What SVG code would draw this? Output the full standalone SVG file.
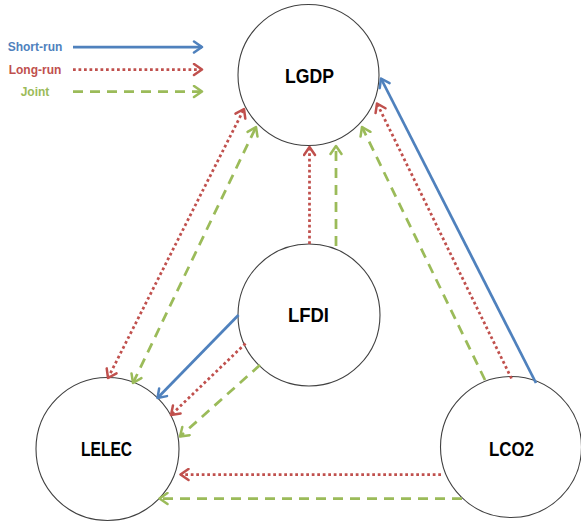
<svg xmlns="http://www.w3.org/2000/svg" width="581" height="522" viewBox="0 0 581 522">
  <style>
    .node circle { fill: #ffffff; stroke: #404040; stroke-width: 1.1; }
    .node text { font-family: "Liberation Sans", Arial, sans-serif; font-weight: bold; font-size: 20px; fill: #000000; text-anchor: middle; }
    .legend text { font-family: "Liberation Sans", Arial, sans-serif; font-weight: bold; font-size: 12px; text-anchor: middle; }
    .short { stroke: #4F81BD; stroke-width: 2.75; fill: none; marker-end: url(#headBlue); }
    .long { stroke: #C0504D; stroke-width: 2.75; fill: none; stroke-dasharray: 2.75 2.75; marker-end: url(#headRed); }
    .joint { stroke: #9BBB59; stroke-width: 2.75; fill: none; stroke-dasharray: 10 7; marker-end: url(#headGreen); }
    .both { marker-start: url(#tailRed); }
    .joint.both { marker-start: url(#tailGreen); }
  </style>
  <defs>
    <marker id="headBlue" markerUnits="userSpaceOnUse" viewBox="-10 -7 12 14" refX="0" refY="0" markerWidth="12" markerHeight="14" orient="auto">
      <path d="M-8,-5.5 L0,0 L-8,5.5" fill="none" stroke="#4F81BD" stroke-width="2.5" stroke-linejoin="round" stroke-linecap="round"/>
    </marker>
    <marker id="headRed" markerUnits="userSpaceOnUse" viewBox="-10 -7 12 14" refX="0" refY="0" markerWidth="12" markerHeight="14" orient="auto">
      <path d="M-8,-5.5 L0,0 L-8,5.5" fill="none" stroke="#C0504D" stroke-width="2.5" stroke-linejoin="round" stroke-linecap="round"/>
    </marker>
    <marker id="headGreen" markerUnits="userSpaceOnUse" viewBox="-10 -7 12 14" refX="0" refY="0" markerWidth="12" markerHeight="14" orient="auto">
      <path d="M-8,-5.5 L0,0 L-8,5.5" fill="none" stroke="#9BBB59" stroke-width="2.5" stroke-linejoin="round" stroke-linecap="round"/>
    </marker>
    <marker id="tailRed" markerUnits="userSpaceOnUse" viewBox="-2 -7 12 14" refX="0" refY="0" markerWidth="12" markerHeight="14" orient="auto">
      <path d="M8,-5.5 L0,0 L8,5.5" fill="none" stroke="#C0504D" stroke-width="2.5" stroke-linejoin="round" stroke-linecap="round"/>
    </marker>
    <marker id="tailGreen" markerUnits="userSpaceOnUse" viewBox="-2 -7 12 14" refX="0" refY="0" markerWidth="12" markerHeight="14" orient="auto">
      <path d="M8,-5.5 L0,0 L8,5.5" fill="none" stroke="#9BBB59" stroke-width="2.5" stroke-linejoin="round" stroke-linecap="round"/>
    </marker>
  </defs>

  <rect width="581" height="522" fill="#ffffff"/>

  <!-- legend -->
  <g id="legend" class="legend">
    <text x="35" y="51" fill="#4F81BD">Short-run</text>
    <line class="short" x1="73" y1="47" x2="202" y2="47"/>
    <text x="35" y="73.5" fill="#C0504D">Long-run</text>
    <line class="long" x1="73" y1="69.5" x2="202" y2="69.5"/>
    <text x="35" y="95.5" fill="#9BBB59">Joint</text>
    <line class="joint" x1="73" y1="91.5" x2="202" y2="91.5"/>
  </g>

  <!-- nodes -->
  <g id="LGDP" class="node">
    <circle cx="308.5" cy="75" r="70.5"/>
    <text x="309.5" y="83" textLength="49" lengthAdjust="spacingAndGlyphs">LGDP</text>
  </g>
  <g id="LFDI" class="node">
    <circle cx="309" cy="315" r="71"/>
    <text x="308.5" y="322" textLength="41" lengthAdjust="spacingAndGlyphs">LFDI</text>
  </g>
  <g id="LELEC" class="node">
    <circle cx="107.5" cy="449" r="71.5"/>
    <text x="106.5" y="456" textLength="51" lengthAdjust="spacingAndGlyphs">LELEC</text>
  </g>
  <g id="LCO2" class="node">
    <circle cx="511" cy="447" r="70.5"/>
    <text x="511.5" y="456" textLength="45" lengthAdjust="spacingAndGlyphs">LCO2</text>
  </g>

  <!-- connectors -->
  <g id="connectors">
    <!-- LFDI to LGDP -->
    <line class="long" x1="309.5" y1="244" x2="309.5" y2="147"/>
    <line class="joint" x1="336" y1="246" x2="336" y2="146"/>
    <!-- LELEC and LGDP, both directions -->
    <line class="long both" x1="108" y1="378" x2="244" y2="109"/>
    <line class="joint both" x1="133" y1="383" x2="256" y2="127"/>
    <!-- LFDI to LELEC -->
    <line class="short" x1="238.5" y1="315" x2="157.5" y2="398"/>
    <line class="long" x1="245.5" y1="343.5" x2="171" y2="415"/>
    <line class="joint" x1="260" y1="365" x2="180" y2="436.5"/>
    <!-- LCO2 to LGDP -->
    <line class="short" x1="536" y1="383" x2="381" y2="78.5"/>
    <line class="long" x1="511.5" y1="378.5" x2="377" y2="103.5"/>
    <line class="joint" x1="485" y1="380" x2="362" y2="127"/>
    <!-- LCO2 to LELEC -->
    <line class="long" x1="441" y1="474.5" x2="180.5" y2="474.5"/>
    <line class="joint" x1="462" y1="498.5" x2="159.5" y2="498.5"/>
  </g>
</svg>
